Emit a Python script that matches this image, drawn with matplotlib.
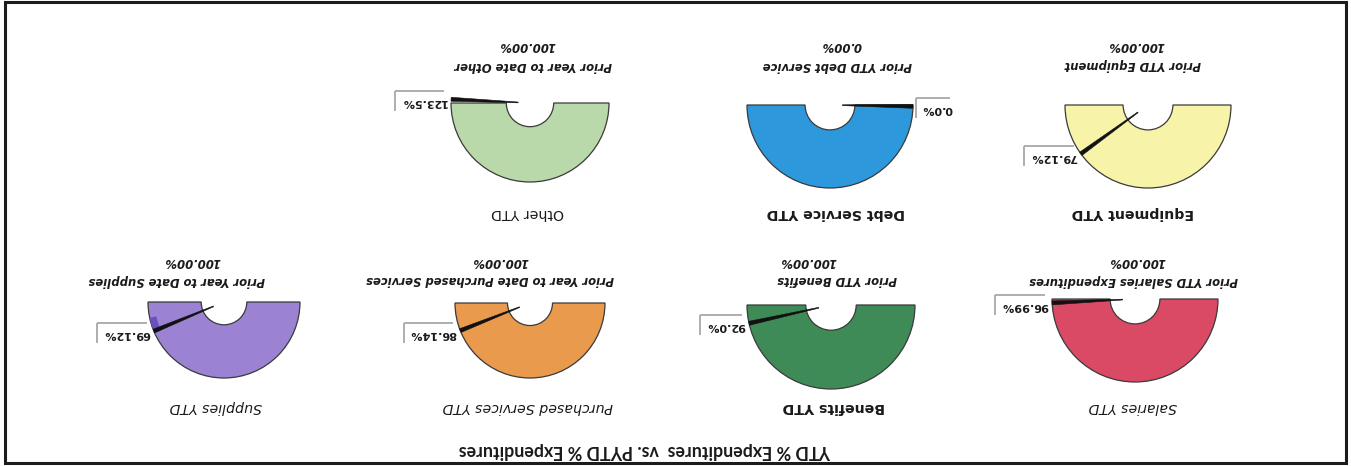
import matplotlib
matplotlib.use("Agg")
import matplotlib.pyplot as plt
from matplotlib.patches import Wedge, Polygon, Rectangle
import numpy as np

# ---------------- data ----------------
chart_title = "YTD % Expenditures  vs. PYTD % Expenditures"
gauge_titles = ["Salaries YTD", "Benefits YTD", "Purchased Services YTD", "Supplies YTD",
                "Equipment YTD", "Debt Service YTD", "Other YTD"]
prior_labels = ["Prior YTD Salaries Expenditures", "Prior YTD Benefits",
                 "Prior Year to Date Purchased Services", "Prior Year to Date Supplies",
                 "Prior YTD Equipment", "Prior YTD Debt Service", "Prior Year to Date Other"]
ytd_labels = ["96.99%", "92.0%", "86.14%", "69.12%", "79.12%", "0.0%", "123.5%"]
prior_values = [100.00, 100.00, 100.00, 100.00, 100.00, 0.00, 100.00]
# needle positions as they appear on each gauge (percent of a 0-100 scale)
needle_values = [98.5, 93.0, 88.0, 87.5, 80.0, 0.5, 101.5]
gauge_max = 100.0

colors = ["#DA4A64", "#3F8B57", "#E99A4D", "#9C82D2", "#F7F4AA", "#2E98DC", "#B9D9AA"]
title_style = ["italic", "normal", "italic", "italic", "normal", "normal", "normal"]
title_weight = ["normal", "bold", "normal", "normal", "bold", "bold", "normal"]

# ---------------- layout (pixel positions of the picture) ----------------
W, H = 1351, 466
gauge_xyr = [(1135, 299, 83), (831, 305, 84), (530, 303, 75), (224, 302, 76),
             (1148, 105, 83), (830, 105, 83), (530, 103, 79)]
title_x = [1133, 834, 528, 216, 1133, 836, 527]
title_y = [407, 407, 407, 407, 213, 213, 213]
prior_x = [1134, 837, 490, 177, 1133, 837, 533]
prior_y = [280, 280, 279, 280, 65, 65, 65]
pval_x = [1137, 808, 500, 192, 1136, 841, 527]
pval_y = [262, 262, 262, 262, 46, 46, 46]

fig = plt.figure(figsize=(W / 100, H / 100), dpi=100)
ax = fig.add_axes([0, 0, 1, 1])
ax.set_xlim(0, W)
ax.set_ylim(H, 0)
ax.set_aspect("equal")
ax.axis("off")

# frame
ax.add_patch(Rectangle((5, 1.5), 1341, 461.5, fill=False, edgecolor="#1c1c1c", lw=2.2))

ax.text(645, 450, chart_title, rotation=180, rotation_mode="anchor", ha="center", va="center",
        fontsize=12.8, fontweight="bold", family="Lato", color="#1a1a1a")

label_texts = []
for i in range(len(gauge_titles)):
    cx, cy, R = gauge_xyr[i]
    # half-donut gauge
    ax.add_patch(Wedge((cx, cy), R, 0, 180, width=R * 0.70, facecolor=colors[i],
                       edgecolor="#3a3a3a", lw=0.9))
    if i == 3:
        ax.add_patch(Wedge((cx, cy), R, 156, 168, width=R * 0.09, facecolor="#6A4FC3",
                           edgecolor="none"))
    # needle
    frac = needle_values[i] / gauge_max
    ang = np.deg2rad(180.0 * frac)
    d = np.array([np.cos(ang), np.sin(ang)])
    n = np.array([-d[1], d[0]])
    p0 = np.array([cx, cy]) + d * R * 0.15
    p1 = np.array([cx, cy]) + d * R * 1.0
    poly = [p0 + n * 0.4, p1 + n * 2.0, p1 - n * 2.0, p0 - n * 0.4]
    ax.add_patch(Polygon(poly, closed=True, facecolor="#111111", edgecolor="#111111", lw=0.4))
    # value label next to the needle tip
    if d[0] < 0:
        t = ax.text(p1[0] - 4, p1[1] + 3, ytd_labels[i], rotation=180, rotation_mode="anchor",
                    ha="left", va="center", fontsize=8, fontweight="bold", color="#1a1a1a")
    else:
        t = ax.text(p1[0] + 9, p1[1] + 3, ytd_labels[i], rotation=180, rotation_mode="anchor",
                    ha="right", va="center", fontsize=8, fontweight="bold", color="#1a1a1a")
    label_texts.append(t)

    ax.text(title_x[i], title_y[i], gauge_titles[i], rotation=180, rotation_mode="anchor",
            ha="center", va="center", fontsize=10.2, style=title_style[i],
            fontweight=title_weight[i], color="#1a1a1a")
    ax.text(prior_x[i], prior_y[i], prior_labels[i], rotation=180, rotation_mode="anchor",
            ha="center", va="center", fontsize=8.4, style="italic", fontweight="bold",
            color="#1a1a1a")
    ax.text(pval_x[i], pval_y[i], f"{prior_values[i]:.2f}%", rotation=180, rotation_mode="anchor",
            ha="center", va="center", fontsize=8.4, style="italic", fontweight="bold",
            color="#1a1a1a")

# shadow-like box edges around value labels
fig.canvas.draw()
rend = fig.canvas.get_renderer()
for t in label_texts:
    bb = t.get_window_extent(rend)
    x0, x1 = bb.x0, bb.x1
    ytop = H - bb.y1
    ybot = H - bb.y0
    ax.plot([x0 - 6, x1 - 3], [ytop - 6, ytop - 6], color="#a8a8a8", lw=1.3, solid_capstyle="butt")
    ax.plot([x0 - 6, x0 - 6], [ytop - 6, ybot + 4], color="#a8a8a8", lw=1.3, solid_capstyle="butt")

fig.savefig("out.png", dpi=100)
